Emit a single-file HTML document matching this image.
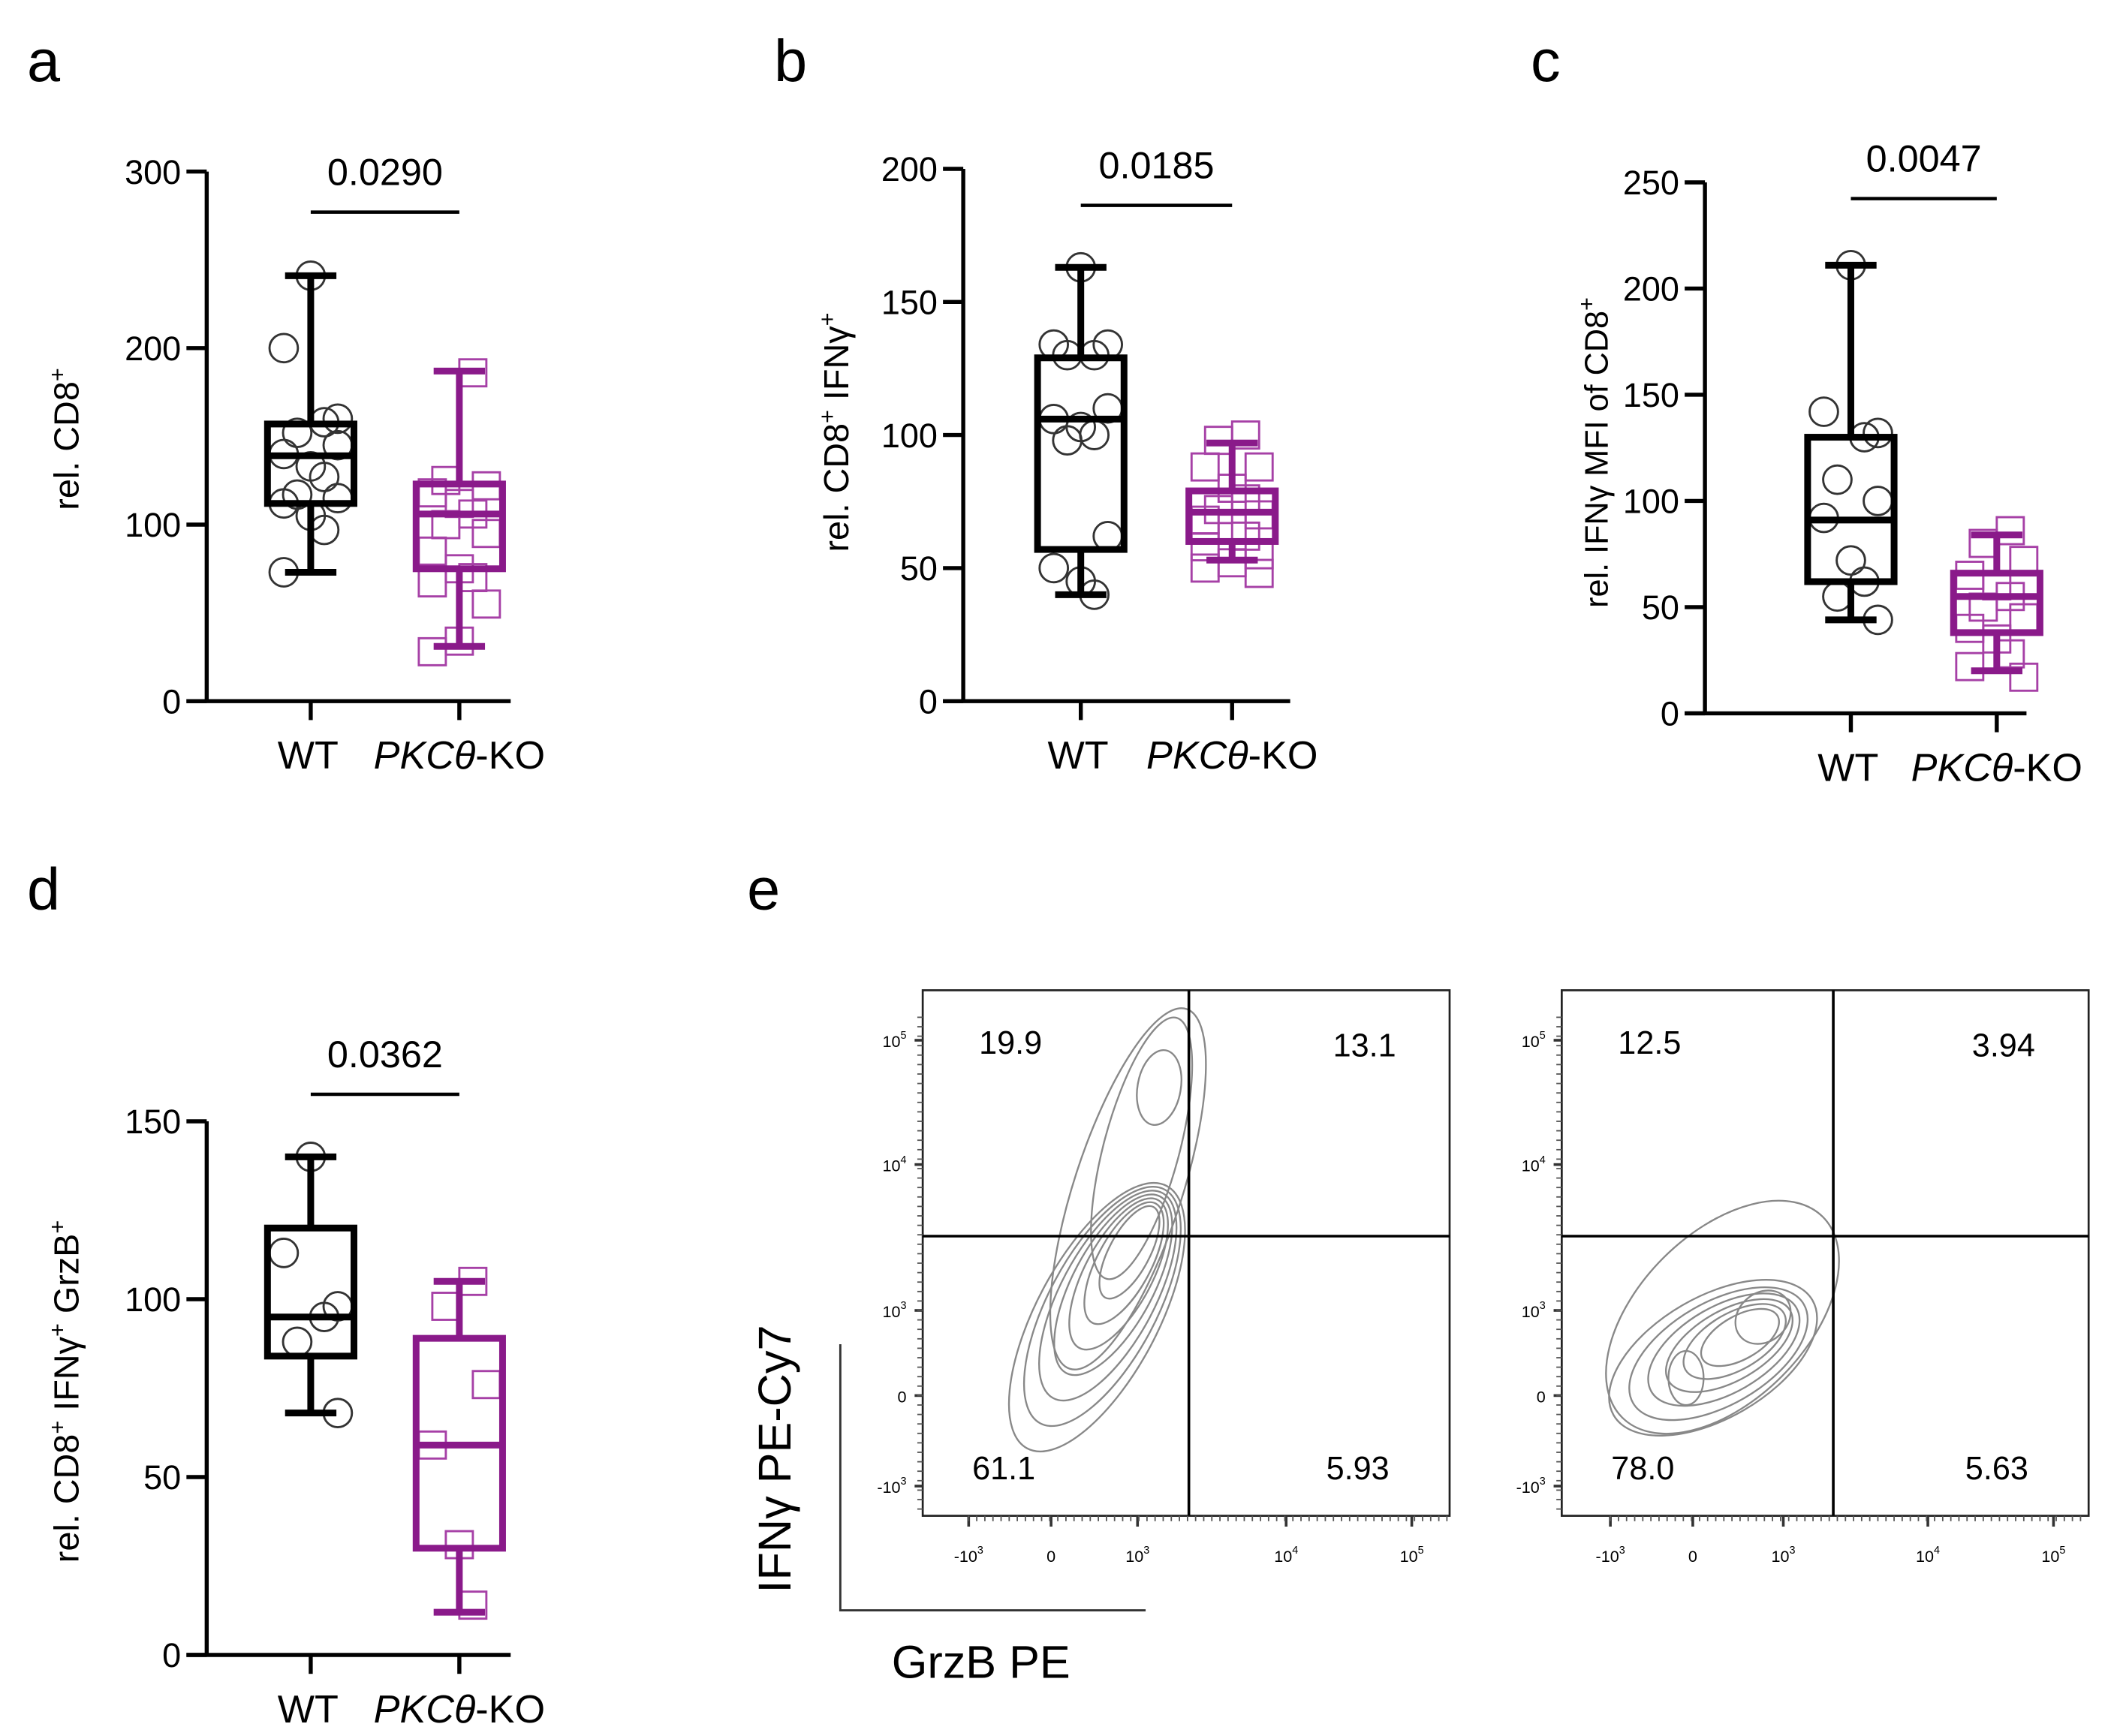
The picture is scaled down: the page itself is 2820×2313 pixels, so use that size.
<!DOCTYPE html>
<html><head><meta charset="utf-8"><style>
html,body{margin:0;padding:0;background:#fff;}
svg{display:block;font-family:"Liberation Sans",Arial,sans-serif;}
</style></head><body>
<svg id="fig" width="2820" height="2313" viewBox="0 0 1567 1285" preserveAspectRatio="none" xmlns="http://www.w3.org/2000/svg">
<g id="root"></g>
</svg>
<script>
// ---- data ----
const groups = ["WT", "PKCθ-KO"];
const aTicks = [0,100,200,300];
const aWT = [241,200,160,158,152,145,140,133,127,117,115,112,105,97,73];
const aKO = [186,125,122,118,112,106,100,95,85,75,70,67,55,34,28];
const aWTbox = [73,112,139,157,241];
const aKObox = [31,75,106,123,187];
const bTicks = [0,50,100,150,200];
const bWT = [163,134,134,130,130,110,106,103,100,98,62,50,45,40];
const bKO = [100,98,88,88,80,76,72,70,68,65,62,58,55,52,50,48];
const bWTbox = [40,57,106,129,163];
const bKObox = [53,60,71,79,97];
const cTicks = [0,50,100,150,200,250];
const cWT = [211,142,132,130,110,100,92,72,62,55,44];
const cKO = [86,80,72,65,60,55,50,45,40,35,28,22,17];
const cWTbox = [44,62,91,130,211];
const cKObox = [20,38,55,66,84];
const dTicks = [0,50,100,150];
const dWT = [140,113,98,95,88,68];
const dKO = [105,98,76,59,31,14];
const dWTbox = [68,84,95,120,140];
const dKObox = [12,30,59,89,105];
const pvals = ["0.0290","0.0185","0.0047","0.0362"];
const flowLeft = ["19.9","13.1","61.1","5.93"];
const flowRight = ["12.5","3.94","78.0","5.63"];

const NS="http://www.w3.org/2000/svg";
const root=document.getElementById('root');
function el(tag,attrs,parent,text){const e=document.createElementNS(NS,tag);for(const k in attrs)e.setAttribute(k,attrs[k]);if(text!==undefined)e.textContent=text;(parent||root).appendChild(e);return e;}
const PURPLE="#8a1a8a", PURPLE_L="#a640a6";

function panel(cfg){
  const g=el('g',{});
  
  
  const y=v=>cfg.y0-(v-0)/(cfg.max)*(cfg.y0-cfg.yTop);
  const ya=el('line',{x1:cfg.ax,y1:cfg.yTop,x2:cfg.ax,y2:cfg.y0,stroke:'#000','stroke-width':3},g);
  
  const xa=el('line',{x1:cfg.ax-15,y1:cfg.y0,x2:cfg.xEnd,y2:cfg.y0,stroke:'#000','stroke-width':3},g);
  
  cfg.ticks.forEach(t=>{
    el('line',{x1:cfg.ax-15,y1:y(t),x2:cfg.ax,y2:y(t),stroke:'#000','stroke-width':3},g);
    const tl=el('text',{x:cfg.ax-19,y:y(t)+9,'font-size':25,'text-anchor':'end'},g,t);
    
  });
  [cfg.xWT,cfg.xKO].forEach(x=>{
    el('line',{x1:x,y1:cfg.y0,x2:x,y2:cfg.y0+14,stroke:'#000','stroke-width':3},g);
  });
  const l1=el('text',{x:cfg.xWT-2,y:cfg.y0+50,'font-size':29,'text-anchor':'middle'},g,groups[0]);
  
  const l2=el('text',{x:cfg.xKO,y:cfg.y0+50,'font-size':29,'text-anchor':'middle'},g);
  
  el('tspan',{'font-style':'italic'},l2,'PKCθ');el('tspan',{},l2,'-KO');
  const tt=el('text',{x:0,y:0,'font-size':cfg.tfs||26,'text-anchor':'middle',transform:`translate(${cfg.tx},${cfg.ty}) rotate(-90)`},g);
  
  cfg.title.forEach(p=>{ if(p[1]) el('tspan',{dy:-10,'font-size':17},tt,p[0]); else el('tspan',{dy:p[2]||0},tt,p[0]);});
  const pv=el('text',{x:(cfg.xWT+cfg.xKO)/2,y:cfg.pY,'font-size':28,'text-anchor':'middle'},g,cfg.p);
  
  const pb=el('line',{x1:cfg.xWT,y1:cfg.pY+20,x2:cfg.xKO,y2:cfg.pY+20,stroke:'#000','stroke-width':2.5},g);
  
  const jit=[0,-1,1,0.5,-0.5,1,-1,0,0.5,-0.5,1,-1,0,0.5,-1,1];
  cfg.wt.forEach((v,i)=>{
    const c=el('circle',{cx:cfg.xWT+jit[i%jit.length]*20,cy:y(v),r:10.5,fill:'none',stroke:'#333','stroke-width':1.6},g);
    
  });
  cfg.ko.forEach((v,i)=>{
    const x=cfg.xKO+jit[(i+3)%jit.length]*20;
    const s=el('rect',{x:x-10,y:y(v)-10,width:20,height:20,fill:'none',stroke:PURPLE_L,'stroke-width':1.6},g);
    
  });
  [[cfg.wtBox,cfg.xWT,'#000','wt-box'],[cfg.koBox,cfg.xKO,PURPLE,'ko-box']].forEach(([b,x,col,nm])=>{
    const bg=el('g',{stroke:col,'stroke-width':5,fill:'none'},g);
    
    const w=32;
    el('line',{x1:x,y1:y(b[0]),x2:x,y2:y(b[1])},bg);
    el('line',{x1:x,y1:y(b[3]),x2:x,y2:y(b[4])},bg);
    el('line',{x1:x-19,y1:y(b[0]),x2:x+19,y2:y(b[0])},bg);
    el('line',{x1:x-19,y1:y(b[4]),x2:x+19,y2:y(b[4])},bg);
    el('rect',{x:x-w,y:y(b[3]),width:2*w,height:y(b[1])-y(b[3])},bg);
    el('line',{x1:x-w,y1:y(b[2]),x2:x+w,y2:y(b[2])},bg);
  });
}
function letter(t,x,y){const e=el('text',{x:x,y:y,'font-size':44},root,t);}
letter('a',20,60);letter('b',573,60);letter('c',1133,60);letter('d',20,673);letter('e',553,673);

panel({name:'panel-a',ax:153,yTop:127,y0:519,max:300,xEnd:378,xWT:230,xKO:340,ticks:aTicks,wt:aWT,ko:aKO,wtBox:aWTbox,koBox:aKObox,p:pvals[0],pY:137,tx:58,ty:325,title:[['rel. CD8'],['+',1]]});
panel({name:'panel-b',ax:713,yTop:125,y0:519,max:200,xEnd:955,xWT:800,xKO:912,ticks:bTicks,wt:bWT,ko:bKO,wtBox:bWTbox,koBox:bKObox,p:pvals[1],pY:132,tx:628,ty:320,title:[['rel. CD8'],['+',1],[' IFNγ',0,10],['+',1]]});
panel({name:'panel-c',ax:1262,yTop:135,y0:528,max:250,xEnd:1500,xWT:1370,xKO:1478,ticks:cTicks,wt:cWT,ko:cKO,wtBox:cWTbox,koBox:cKObox,p:pvals[2],pY:127,tx:1190,ty:335,tfs:24,title:[['rel. IFNγ MFI of CD8'],['+',1]]});
panel({name:'panel-d',ax:153,yTop:830,y0:1225,max:150,xEnd:378,xWT:230,xKO:340,ticks:dTicks,wt:dWT,ko:dKO,wtBox:dWTbox,koBox:dKObox,p:pvals[3],pY:790,tx:58,ty:1030,title:[['rel. CD8'],['+',1],[' IFNγ',0,10],['+',1],[' GrzB',0,10],['+',1]]});

function flow(name,x0,xc,vals,xl,contours){
  const g=el('g',{});
  
  const y0=733,y1=1122,x1=x0+390,yc=915;
  contours.forEach(c=>{el('ellipse',{cx:c[0],cy:c[1],rx:c[2],ry:c[3],transform:`rotate(${c[4]} ${c[0]} ${c[1]})`,fill:'none',stroke:'#888','stroke-width':1.3},g);});
  el('rect',{x:x0,y:y0,width:390,height:y1-y0,fill:'none',stroke:'#222','stroke-width':1.5},g);
  el('line',{x1:xc,y1:y0,x2:xc,y2:y1,stroke:'#000','stroke-width':2},g);
  el('line',{x1:x0,y1:yc,x2:x1,y2:yc,stroke:'#000','stroke-width':2},g);
  const pos=[[x0+65,770],[x0+327,772],[x0+60,1085],[x0+322,1085]];
  vals.forEach((v,i)=>{const t=el('text',{x:pos[i][0],y:pos[i][1]+10,'font-size':24,'text-anchor':'middle'},g,v);});
  [[770,'10','5'],[862,'10','4'],[970,'10','3'],[1033,'0',''],[1100,'-10','3']].forEach(a=>{
    el('line',{x1:x0-6,y1:a[0],x2:x0,y2:a[0],stroke:'#333','stroke-width':2},g);
    const t=el('text',{x:x0-12,y:a[0]+5,'font-size':12,'text-anchor':'end'},g,a[1]);
    if(a[2]) el('tspan',{dy:-6,'font-size':8},t,a[2]);
  });
  const xt=[['-10','3'],['0',''],['10','3'],['10','4'],['10','5']];
  xl.forEach((x,i)=>{
    el('line',{x1:x,y1:y1,x2:x,y2:y1+8,stroke:'#333','stroke-width':2},g);
    const t=el('text',{x:x,y:y1+34,'font-size':12,'text-anchor':'middle'},g,xt[i][0]);
    if(xt[i][1]) el('tspan',{dy:-6,'font-size':8},t,xt[i][1]);
  });
  for(let x=xl[0];x<x1;x+=6) el('line',{x1:x,y1:y1,x2:x,y2:y1+4,stroke:'#555','stroke-width':1},g);
  for(let y=y0+20;y<y1;y+=7) el('line',{x1:x0-4,y1:y,x2:x0,y2:y,stroke:'#555','stroke-width':1},g);
}
const cl=[];
[[110,45],[98,40],[86,35],[74,30],[62,25],[50,20],[38,15]].forEach((s,i)=>cl.push([812+i*4,975-i*8,s[0],s[1],-62]));
cl.push([835,880,140,40,-72]);cl.push([845,850,100,28,-75]);cl.push([858,805,28,16,-80]);
flow('flow-plot-wt',683,880,flowLeft,[717,778,842,952,1045],cl);
const cr=[[1275,975,105,62,-45]];
[[85,45],[73,38],[62,32],[52,26],[42,21],[32,16]].forEach((s,i)=>cr.push([1268+i*4,1005-i*3,s[0],s[1],-30]));
cr.push([1305,975,22,18,-40]);cr.push([1248,1020,13,20,0]);
flow('flow-plot-ko',1156,1357,flowRight,[1192,1253,1320,1427,1520],cr);

const ca=el('path',{d:'M622 995 L622 1192 L848 1192',fill:'none',stroke:'#333','stroke-width':1.6});

const yt=el('text',{x:0,y:0,'font-size':34,'text-anchor':'middle',transform:'translate(585,1080) rotate(-90)'},root,'IFNγ PE-Cy7');

const xt2=el('text',{x:660,y:1242,'font-size':34},root,'GrzB PE');

</script>
</body></html>
